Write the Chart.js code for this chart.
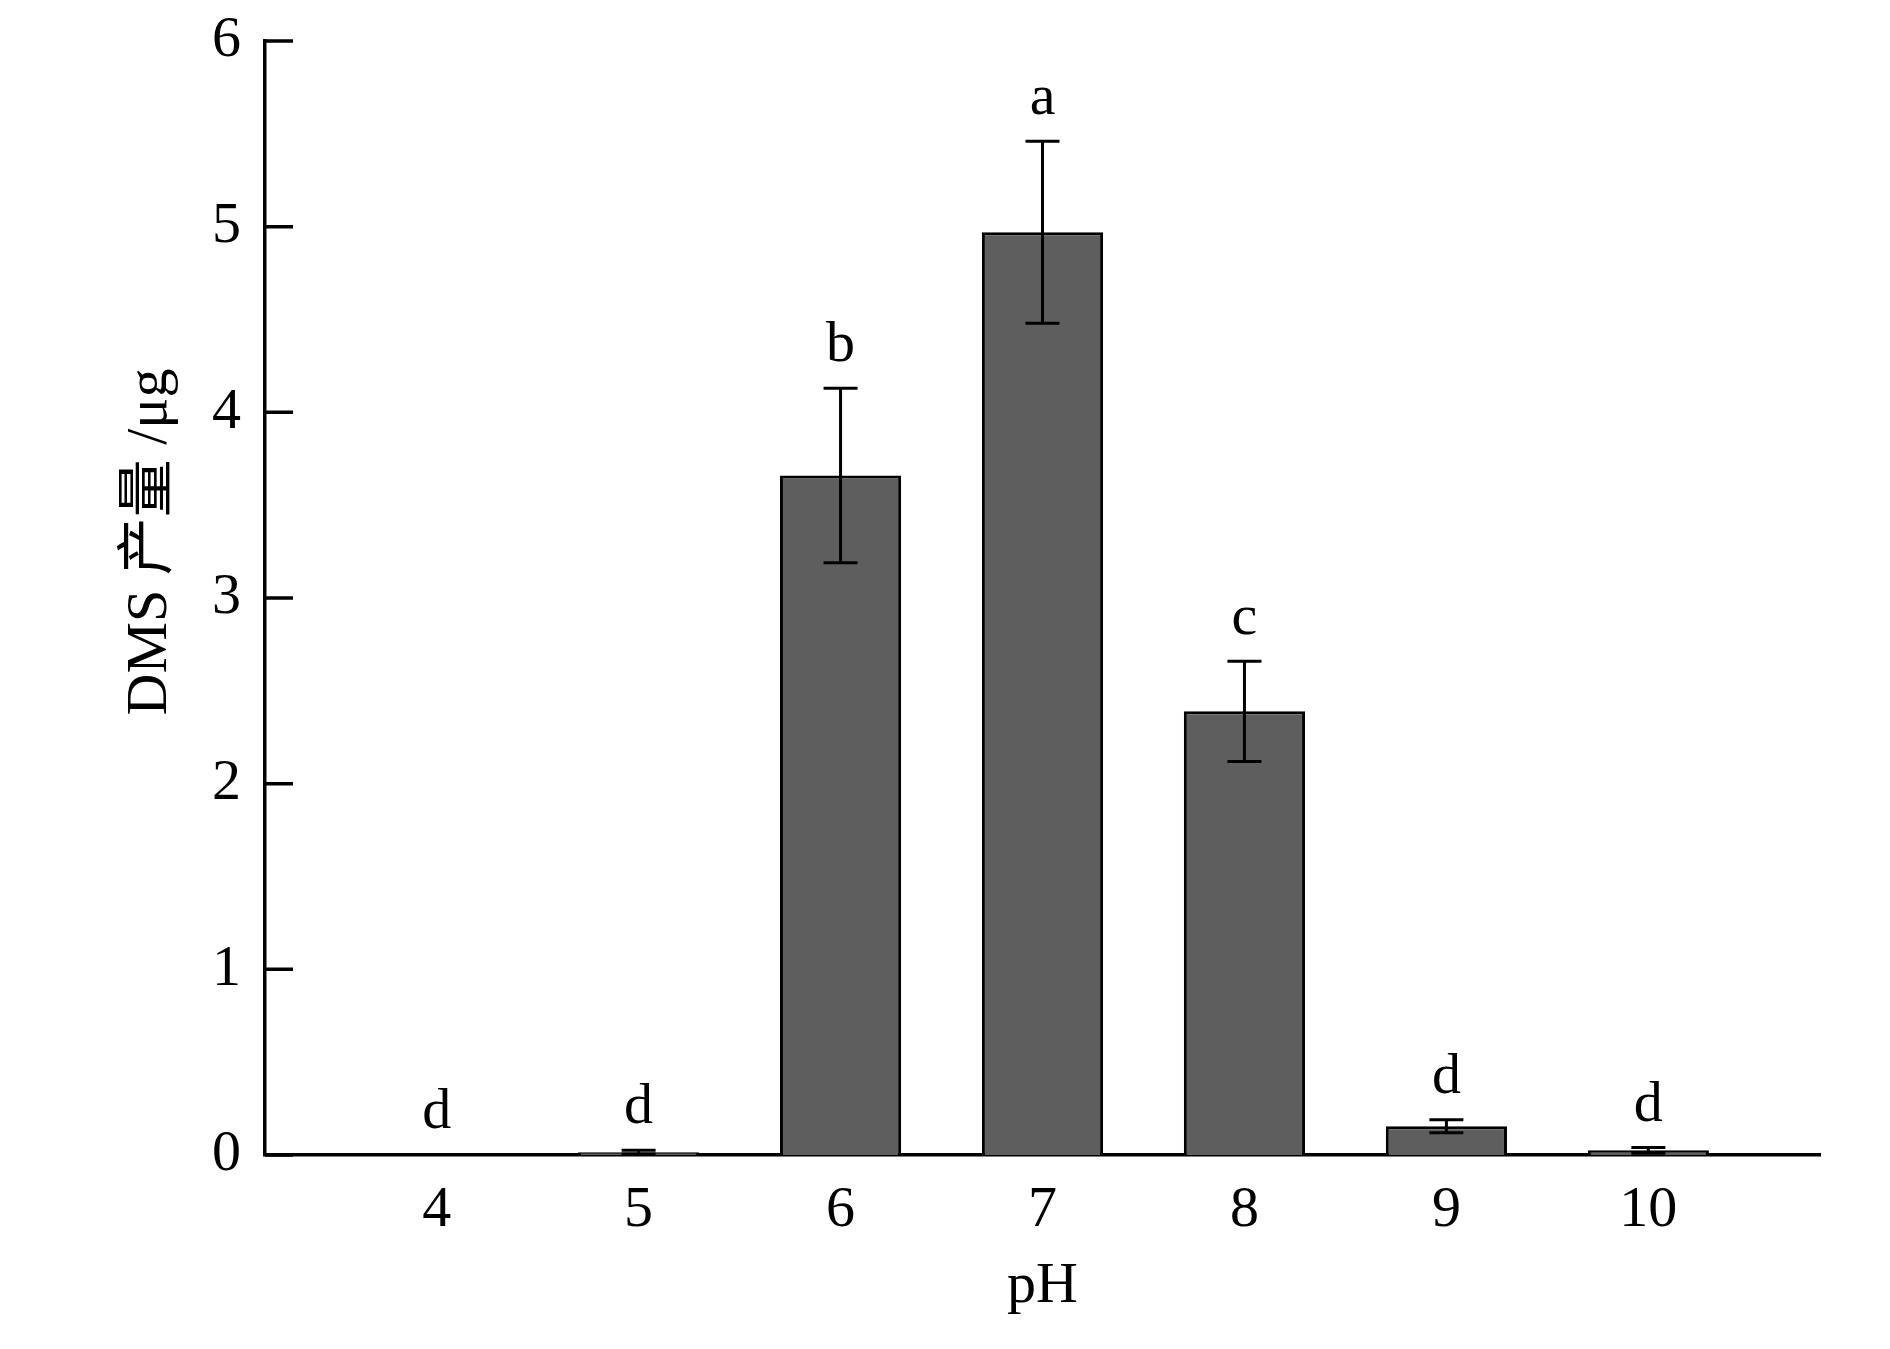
<!DOCTYPE html>
<html>
<head>
<meta charset="utf-8">
<title>DMS 产量</title>
<script src="https://cdn.jsdelivr.net/npm/chart.js@4/dist/chart.umd.min.js"></script>
<style>
  body { margin: 0; background: #fff; }
  #wrap { width: 1890px; height: 1349px; }
</style>
</head>
<body>
<div id="wrap"><canvas id="dmsChart"></canvas></div>
<script>
// pH groups and DMS yield (ug), with standard error and significance letters
const phValues = [4, 5, 6, 7, 8, 9, 10];
const dmsMeans = [0, 0.015, 3.66, 4.97, 2.39, 0.155, 0.025];
const dmsErrors = [0, 0.01, 0.47, 0.49, 0.27, 0.035, 0.015];
const sigLetters = ['d', 'd', 'b', 'a', 'c', 'd', 'd'];
const yTicks = [0, 1, 2, 3, 4, 5, 6];

const FONT = '"Liberation Serif", "Times New Roman", "Noto Sans CJK SC", serif';

// error bars + letters above each bar
const errorBarPlugin = {
    id: 'errorBars',
    afterDatasetsDraw(chart) {
        const ctx = chart.ctx;
        const x = chart.scales.x;
        const y = chart.scales.y;
        ctx.save();
        ctx.strokeStyle = '#000';
        ctx.lineWidth = 3;
        ctx.fillStyle = '#000';
        ctx.font = '58px ' + FONT;
        ctx.textAlign = 'center';
        ctx.textBaseline = 'alphabetic';
        phValues.forEach((ph, i) => {
            const px = x.getPixelForValue(ph);
            const top = y.getPixelForValue(dmsMeans[i] + dmsErrors[i]);
            const bot = y.getPixelForValue(dmsMeans[i] - dmsErrors[i]);
            if (dmsErrors[i] > 0) {
                const cap = 17;
                ctx.beginPath();
                ctx.moveTo(px, top); ctx.lineTo(px, bot);
                ctx.moveTo(px - cap, top); ctx.lineTo(px + cap, top);
                ctx.moveTo(px - cap, bot); ctx.lineTo(px + cap, bot);
                ctx.stroke();
            }
            ctx.fillText(sigLetters[i], px, top - 27);
        });
        ctx.restore();
    }
};

// inward tick marks on the y axis, plus the rotated axis title
const axisPlugin = {
    id: 'axisExtras',
    afterDraw(chart) {
        const ctx = chart.ctx;
        const y = chart.scales.y;
        ctx.save();
        ctx.strokeStyle = '#000';
        ctx.lineWidth = 3.5;
        ctx.beginPath();
        y.ticks.forEach(t => {
            const py = y.getPixelForValue(t.value);
            ctx.moveTo(y.right, py);
            ctx.lineTo(y.right + 28, py);
        });
        ctx.stroke();

        ctx.translate(151, 542);
        ctx.rotate(-Math.PI / 2);
        ctx.fillStyle = '#000';
        ctx.font = '58px ' + FONT;
        ctx.textAlign = 'center';
        ctx.textBaseline = 'middle';
        ctx.fillText('DMS 产量 /μg', 0, 0);
        ctx.restore();
    }
};

const ctx = document.getElementById('dmsChart').getContext('2d');
const dmsChart = new Chart(ctx, {
    type: 'bar',
    data: {
        datasets: [{
            label: 'DMS',
            data: phValues.map((ph, i) => ({ x: ph, y: dmsMeans[i] })),
            backgroundColor: '#5e5e5e',
            borderColor: '#000',
            borderWidth: 3,
            barPercentage: 0.6,
            categoryPercentage: 1
        }]
    },
    options: {
        responsive: true,
        maintainAspectRatio: false,
        animation: false,
        layout: { padding: { top: 41, right: 70, left: 0, bottom: 0 } },
        plugins: {
            legend: { display: false },
            tooltip: { enabled: false }
        },
        scales: {
            x: {
                type: 'linear',
                min: 3.15,
                max: 10.85,
                offset: false,
                afterFit(scale) {
                    scale.height = 194;
                    scale.paddingLeft = 0;
                    scale.paddingRight = 0;
                },
                grid: { display: false, drawTicks: false },
                border: { display: true, color: '#000', width: 3.5 },
                ticks: {
                    stepSize: 1,
                    includeBounds: false,
                    autoSkip: false,
                    maxRotation: 0,
                    padding: 21,
                    color: '#000',
                    font: { family: FONT, size: 58 }
                },
                title: {
                    display: true,
                    text: 'pH',
                    color: '#000',
                    font: { family: FONT, size: 58 },
                    padding: { top: 0, bottom: 27 }
                }
            },
            y: {
                min: 0,
                max: 6,
                afterFit(scale) {
                    scale.width = 265;
                    scale.paddingTop = 0;
                    scale.paddingBottom = 0;
                },
                afterBuildTicks(scale) { scale.ticks = yTicks.map(v => ({ value: v })); },
                grid: { display: false, drawTicks: false },
                border: { display: true, color: '#000', width: 3.5 },
                ticks: {
                    padding: 24,
                    color: '#000',
                    font: { family: FONT, size: 58 }
                }
            }
        }
    },
    plugins: [errorBarPlugin, axisPlugin]
});
</script>
</body>
</html>
